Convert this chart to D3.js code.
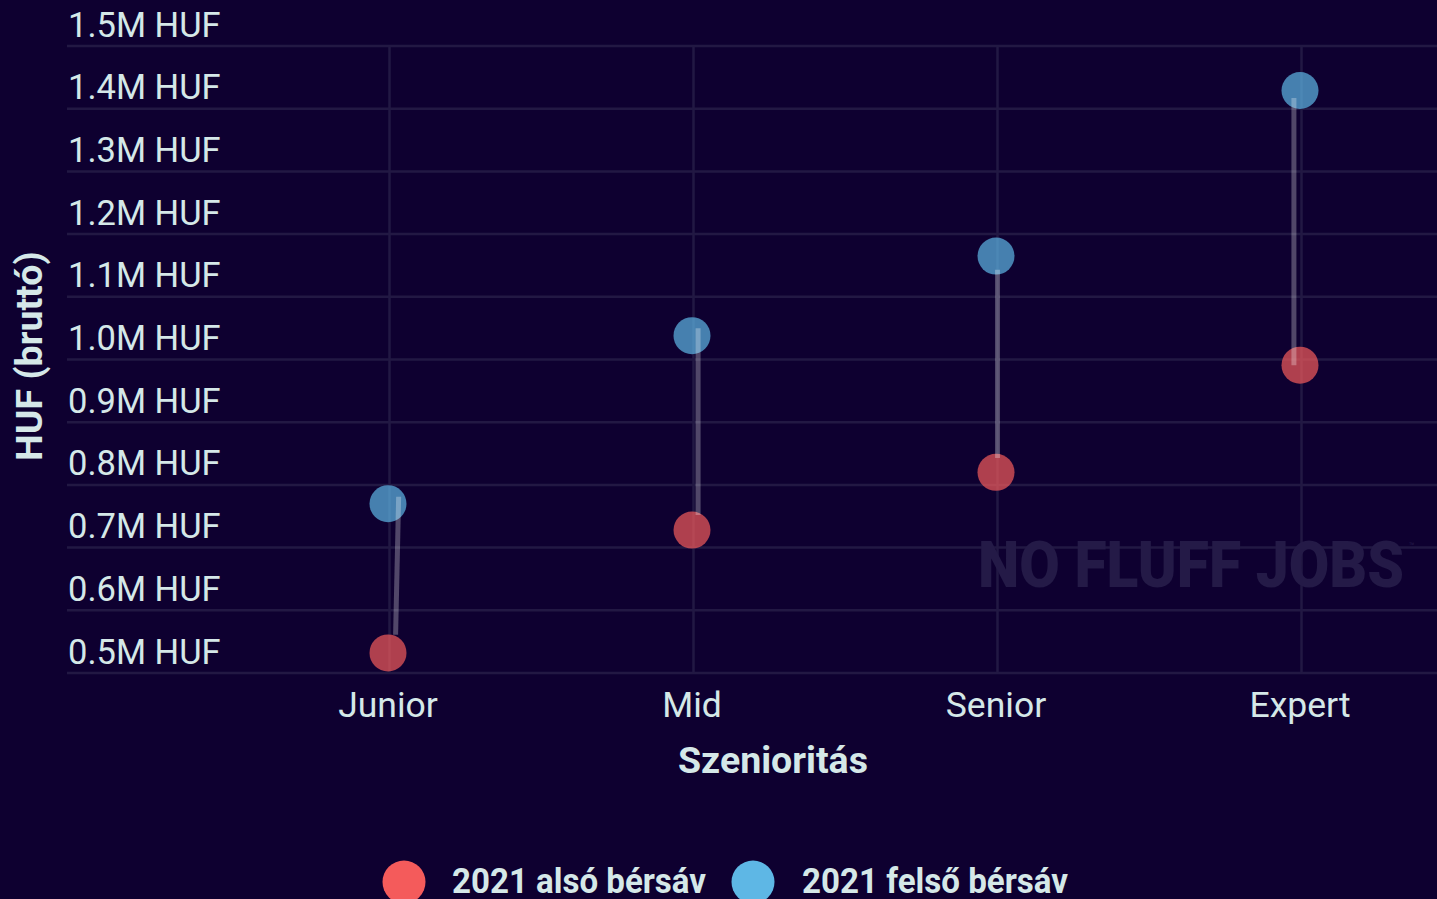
<!DOCTYPE html>
<html>
<head>
<meta charset="utf-8">
<script src="https://cdn.jsdelivr.net/npm/d3@7"></script>
<style>
  html, body { margin: 0; padding: 0; background: #0e0030; }
  svg { display: block; }
</style>
</head>
<body>
<svg id="chart" width="1437" height="899"></svg>
<script>
// ---- data ----
const categories = ["Junior", "Mid", "Senior", "Expert"];
const lowerBand = [0.532, 0.728, 0.82, 0.991];      // 2021 alsó bérsáv (M HUF)
const upperBand = [0.770, 1.038, 1.165, 1.429];     // 2021 felső bérsáv (M HUF)
// jittered connecting segments (as drawn in the source)
const segLow = [0.561, 0.752, 0.843, 0.991];
const segHigh = [0.781, 1.050, 1.143, 1.417];
const segJitterLow = [0.025, 0.02, 0.005, -0.02];   // fraction of category step
const segJitterHigh = [0.035, 0.02, 0.005, -0.02];
const yTicks = [0.5, 0.6, 0.7, 0.8, 0.9, 1.0, 1.1, 1.2, 1.3, 1.4, 1.5];
const seriesNames = ["2021 alsó bérsáv", "2021 felső bérsáv"];
const xTitle = "Szenioritás";
const yTitle = "HUF (bruttó)";

// ---- styles ----
const bg = "#0e0030";
const textColor = "#d5e8e8";
const gridColor = "#221843";
const red = "#f45b5b", blue = "#5eb7e5";

const svg = d3.select("#chart");
svg.append("rect").attr("width", 1437).attr("height", 899).attr("fill", bg);

const x = d3.scalePoint().domain(categories).range([388, 1300]);
const step = x.step();
const y = d3.scaleLinear().domain([0.5, 1.5]).range([673, 46]);

// grid
const grid = svg.append("g");
grid.selectAll("line.h").data(yTicks).join("line")
  .attr("x1", 67).attr("x2", 1437)
  .attr("y1", d => y(d)).attr("y2", d => y(d))
  .attr("stroke", gridColor).attr("stroke-width", 2.5);
grid.selectAll("line.v").data(categories).join("line")
  .attr("x1", d => x(d) + 1.5).attr("x2", d => x(d) + 1.5)
  .attr("y1", y(1.5)).attr("y2", y(0.5) + 1)
  .attr("stroke", gridColor).attr("stroke-width", 2.5);

// watermark
svg.append("text")
  .attr("x", 978).attr("y", 587)
  .attr("font-family", "Roboto, 'DejaVu Sans', sans-serif")
  .attr("font-weight", 900).attr("font-size", 64)
  .attr("textLength", 426).attr("lengthAdjust", "spacingAndGlyphs")
  .attr("fill", "#241a47").text("NO FLUFF JOBS");
svg.append("text").attr("x", 1409).attr("y", 549)
  .attr("font-family", "Roboto, sans-serif").attr("font-size", 9)
  .attr("fill", "#241a47").text("™");

// y tick labels (drawn above each gridline)
svg.append("g").selectAll("text").data(yTicks).join("text")
  .attr("x", 68).attr("y", d => y(d) - 9.5)
  .attr("font-family", "Roboto, sans-serif").attr("font-size", 34.5)
  .attr("fill", textColor)
  .text(d => d3.format(".1f")(d) + "M HUF");

// x tick labels
svg.append("g").selectAll("text").data(categories).join("text")
  .attr("x", d => x(d)).attr("y", 717)
  .attr("text-anchor", "middle")
  .attr("font-family", "Roboto, sans-serif").attr("font-size", 35.5)
  .attr("fill", textColor).text(d => d);

// axis titles
svg.append("text").attr("x", 773).attr("y", 773)
  .attr("text-anchor", "middle")
  .attr("font-family", "Roboto, sans-serif").attr("font-weight", 700)
  .attr("font-size", 37.5).attr("fill", textColor).text(xTitle);
svg.append("text")
  .attr("transform", "translate(42,356) rotate(-90)")
  .attr("text-anchor", "middle")
  .attr("font-family", "Roboto, sans-serif").attr("font-weight", 700)
  .attr("font-size", 37.5).attr("fill", textColor).text(yTitle);

// points
const pts = svg.append("g");
pts.selectAll("circle.lo").data(categories).join("circle")
  .attr("cx", d => x(d)).attr("cy", (d, i) => y(lowerBand[i]))
  .attr("r", 18.5).attr("fill", red).attr("fill-opacity", 0.7);
pts.selectAll("circle.hi").data(categories).join("circle")
  .attr("class", "hi")
  .attr("cx", d => x(d)).attr("cy", (d, i) => y(upperBand[i]))
  .attr("r", 18.5).attr("fill", blue).attr("fill-opacity", 0.7);

// segments (on top)
svg.append("g").selectAll("line").data(categories).join("line")
  .attr("x1", (d, i) => x(d) + segJitterLow[i] * step)
  .attr("x2", (d, i) => x(d) + segJitterHigh[i] * step)
  .attr("y1", (d, i) => y(segLow[i]))
  .attr("y2", (d, i) => y(segHigh[i]))
  .attr("stroke", "#ffffff").attr("stroke-opacity", 0.28)
  .attr("stroke-width", 5);

// legend
const legend = svg.append("g");
const legItems = [
  { name: seriesNames[0], color: red, cx: 404, tx: 452, w: 254 },
  { name: seriesNames[1], color: blue, cx: 753, tx: 802, w: 266 }
];
legend.selectAll("circle").data(legItems).join("circle")
  .attr("cx", d => d.cx).attr("cy", 882).attr("r", 21.5)
  .attr("fill", d => d.color);
legend.selectAll("text").data(legItems).join("text")
  .attr("x", d => d.tx).attr("y", 893)
  .attr("font-family", "Roboto, sans-serif").attr("font-weight", 700)
  .attr("font-size", 35).attr("fill", textColor)
  .attr("textLength", d => d.w)
  .attr("lengthAdjust", "spacingAndGlyphs")
  .text(d => d.name);
</script>
</body>
</html>
